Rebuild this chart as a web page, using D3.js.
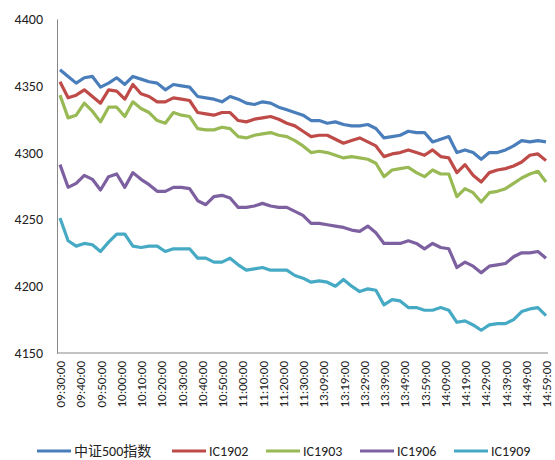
<!DOCTYPE html>
<html><head><meta charset="utf-8">
<script src="https://cdn.jsdelivr.net/npm/d3@7"></script>
<style>body{margin:0;background:#fff}text{font-family:Calibri,"Liberation Sans","Noto Sans CJK SC",sans-serif}</style>
</head><body><svg id="c" width="555" height="460"></svg>
<script>
const seriesNames = ["中证500指数","IC1902","IC1903","IC1906","IC1909"];
const colors = ["#4a7ebb","#be4b48","#98b954","#7d60a0","#46aac5"];
const tickLabels = ["09:30:00","09:40:00","09:50:00","10:00:00","10:10:00","10:20:00","10:30:00","10:40:00","10:50:00","11:00:00","11:10:00","11:20:00","11:30:00","13:09:00","13:19:00","13:29:00","13:39:00","13:49:00","13:59:00","14:09:00","14:19:00","14:29:00","14:39:00","14:49:00","14:59:00"];
const yTicks = [4150,4200,4250,4300,4350,4400];
// sampled every 4 minutes (index 0..240)
const s500 = [4362,4357,4352,4356,4357,4349,4352,4356,4351,4357,4355,4353,4352,4347,4351,4350,4349,4342,4341,4340,4338,4342,4340,4337,4336,4338,4337,4334,4332,4330,4328,4324,4324,4322,4323,4321,4320,4320,4321,4318,4311,4312,4313,4316,4315,4315,4308,4310,4312,4300,4302,4300,4295,4300,4300,4302,4305,4309,4308,4309,4308];
const ic1902 = [4353,4341,4343,4347,4342,4337,4347,4346,4340,4351,4344,4342,4338,4338,4341,4340,4339,4330,4329,4328,4330,4330,4324,4323,4325,4326,4327,4325,4322,4320,4316,4312,4313,4313,4310,4307,4309,4311,4308,4305,4297,4299,4300,4302,4300,4298,4302,4297,4296,4285,4291,4283,4278,4285,4287,4288,4290,4293,4298,4299,4294];
const ic1903 = [4343,4326,4328,4337,4331,4323,4334,4334,4327,4338,4333,4330,4324,4322,4330,4328,4327,4318,4317,4317,4319,4318,4312,4311,4313,4314,4315,4313,4312,4309,4305,4300,4301,4300,4298,4296,4297,4296,4295,4292,4282,4287,4288,4289,4285,4282,4287,4284,4284,4267,4273,4270,4263,4270,4271,4273,4277,4281,4284,4286,4278];
const ic1906 = [4291,4274,4277,4283,4280,4272,4282,4284,4274,4285,4280,4276,4271,4271,4274,4274,4273,4264,4261,4267,4268,4266,4259,4259,4260,4262,4260,4259,4259,4256,4253,4247,4247,4246,4245,4244,4242,4241,4245,4240,4232,4232,4232,4234,4232,4228,4232,4229,4228,4214,4218,4215,4210,4215,4216,4217,4222,4225,4225,4226,4221];
const ic1909 = [4251,4234,4230,4232,4231,4226,4233,4239,4239,4230,4229,4230,4230,4226,4228,4228,4228,4221,4221,4218,4218,4221,4216,4212,4213,4214,4212,4212,4212,4208,4206,4203,4204,4203,4200,4205,4200,4196,4198,4197,4186,4190,4189,4184,4184,4182,4182,4184,4182,4173,4174,4171,4167,4171,4172,4172,4175,4181,4183,4184,4178];
const allSeries = [s500,ic1902,ic1903,ic1906,ic1909];

const svg = d3.select("#c");
const L=57,R=546,T=19,B=353;
const x = d3.scaleLinear().domain([0,240]).range([L+3,R]);
const y = d3.scaleLinear().domain([4150,4400]).range([B,T]);

const ya = svg.append("g").attr("transform",`translate(${L},0)`)
  .call(d3.axisLeft(y).tickValues(yTicks).tickSize(0).tickPadding(14).tickFormat(d3.format("d")));
ya.select(".domain").attr("stroke","#878787");
ya.selectAll("text").attr("font-size",14).attr("fill","#222");

const xa = svg.append("g").attr("transform",`translate(0,${B})`)
  .call(d3.axisBottom(x).tickValues(d3.range(0,241,10)).tickSize(0).tickFormat((d,i)=>tickLabels[i]));
xa.select(".domain").attr("stroke","#878787").attr("d",`M${L},0H${R+2}`);
xa.selectAll("text").attr("font-size",13).attr("fill","#222")
  .attr("transform","rotate(-90)").attr("text-anchor","end").attr("dx","-8").attr("dy","0.35em").attr("x",0).attr("y",0);

const line = d3.line().x((d,i)=>x(i*4)).y(d=>y(d));
allSeries.forEach((s,k)=>{
  svg.append("path").datum(s).attr("d",line).attr("fill","none")
    .attr("stroke",colors[k]).attr("stroke-width",3.2).attr("stroke-linejoin","round");
});

const legX=[37,172,266,360,454];
const lg = svg.append("g").attr("transform","translate(0,451)");
seriesNames.forEach((n,k)=>{
  lg.append("line").attr("x1",legX[k]).attr("x2",legX[k]+34).attr("y1",0).attr("y2",0)
    .attr("stroke",colors[k]).attr("stroke-width",3);
  lg.append("text").attr("x",legX[k]+37).attr("y",0).attr("dy","0.35em")
    .attr("font-size",14).attr("fill","#222").text(n);
});
</script></body></html>
